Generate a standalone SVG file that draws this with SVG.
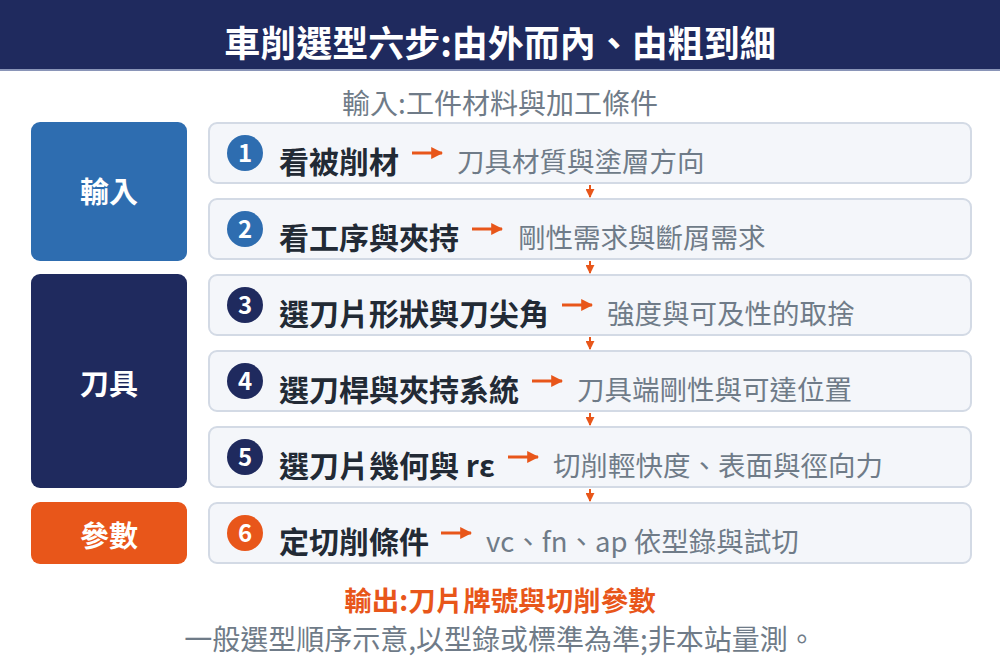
<svg xmlns="http://www.w3.org/2000/svg" width="1000" height="660" viewBox="0 0 1000 660">
<defs>
<style>
.t{font-family:"Noto Sans CJK TC","Noto Sans CJK SC",sans-serif}
.h{font-size:36px;font-weight:700;fill:#ffffff}
.sub{font-size:28px;fill:#6f7b88}
.lab{font-size:29px;font-weight:700;fill:#ffffff}
.box{fill:#f4f6fa;stroke:#d3dae5;stroke-width:2}
.st{font-size:30px;font-weight:700;fill:#222a35}
.ds{font-size:27.5px;fill:#6f7b88}
.num{font-size:24px;font-weight:700;fill:#ffffff}
.arr{stroke:#e8561a;stroke-width:3;fill:none}
.dn{stroke:#e8561a;stroke-width:2;fill:none}
</style>
<marker id="ah" viewBox="0 0 10 10" refX="9" refY="5" markerWidth="4" markerHeight="4" orient="auto" markerUnits="strokeWidth">
<path d="M0,0 L10,5 L0,10 z" fill="#e8561a"/>
</marker>
<marker id="ad" viewBox="0 0 10 10" refX="9" refY="5" markerWidth="4.5" markerHeight="4.5" orient="auto" markerUnits="strokeWidth">
<path d="M0,0 L10,5 L0,10 z" fill="#e8561a"/>
</marker>
</defs>
<rect width="1000" height="660" fill="#ffffff"/>
<g id="header">
<rect x="0" y="0" width="1000" height="70" fill="#1f2a5e"/>
<rect x="0" y="69" width="1000" height="2" fill="#8a95b8"/>
<text class="t h" x="500" y="57" text-anchor="middle">車削選型六步:由外而內、由粗到細</text>
</g>
<text class="t sub" x="500" y="114" text-anchor="middle">輸入:工件材料與加工條件</text>
<g id="cat-input">
<rect x="31" y="122" width="156" height="139" rx="9" fill="#2e6db0"/>
<text class="t lab" x="109" y="203" text-anchor="middle">輸入</text>
</g>
<g id="cat-tool">
<rect x="31" y="274" width="156" height="214" rx="9" fill="#1f2a5e"/>
<text class="t lab" x="109" y="395" text-anchor="middle">刀具</text>
</g>
<g id="cat-param">
<rect x="31" y="502" width="156" height="62" rx="9" fill="#e8561a"/>
<text class="t lab" x="109" y="547" text-anchor="middle">參數</text>
</g>
<g id="step1">
<rect class="box" x="209" y="123" width="762" height="60" rx="8"/>
<circle cx="245" cy="153" r="18" fill="#2e6db0"/>
<text class="t num" x="245" y="162" text-anchor="middle">1</text>
<text class="t st" x="279" y="173">看被削材</text>
<text class="t ds" x="457" y="172">刀具材質與塗層方向</text>
</g>
<g id="step2">
<rect class="box" x="209" y="199" width="762" height="60" rx="8"/>
<circle cx="245" cy="229" r="18" fill="#2e6db0"/>
<text class="t num" x="245" y="238" text-anchor="middle">2</text>
<text class="t st" x="279" y="249">看工序與夾持</text>
<text class="t ds" x="518" y="248">剛性需求與斷屑需求</text>
</g>
<g id="step3">
<rect class="box" x="209" y="275" width="762" height="60" rx="8"/>
<circle cx="245" cy="305" r="18" fill="#1f2a5e"/>
<text class="t num" x="245" y="314" text-anchor="middle">3</text>
<text class="t st" x="279" y="325">選刀片形狀與刀尖角</text>
<text class="t ds" x="607" y="324">強度與可及性的取捨</text>
</g>
<g id="step4">
<rect class="box" x="209" y="351" width="762" height="60" rx="8"/>
<circle cx="245" cy="381" r="18" fill="#1f2a5e"/>
<text class="t num" x="245" y="390" text-anchor="middle">4</text>
<text class="t st" x="279" y="401">選刀桿與夾持系統</text>
<text class="t ds" x="577" y="400">刀具端剛性與可達位置</text>
</g>
<g id="step5">
<rect class="box" x="209" y="427" width="762" height="60" rx="8"/>
<circle cx="245" cy="457" r="18" fill="#1f2a5e"/>
<text class="t num" x="245" y="466" text-anchor="middle">5</text>
<text class="t st" x="279" y="477">選刀片幾何與 rε</text>
<text class="t ds" x="553" y="476">切削輕快度、表面與徑向力</text>
</g>
<g id="step6">
<rect class="box" x="209" y="503" width="762" height="60" rx="8"/>
<circle cx="245" cy="533" r="18" fill="#e8561a"/>
<text class="t num" x="245" y="542" text-anchor="middle">6</text>
<text class="t st" x="279" y="553">定切削條件</text>
<text class="t ds" x="486" y="552">vc、fn、ap 依型錄與試切</text>
</g>
<g id="connectors">
<line class="arr" x1="412" y1="153" x2="442" y2="153" marker-end="url(#ah)"/>
<line class="arr" x1="472" y1="229" x2="502" y2="229" marker-end="url(#ah)"/>
<line class="arr" x1="562" y1="305" x2="592" y2="305" marker-end="url(#ah)"/>
<line class="arr" x1="532" y1="381" x2="562" y2="381" marker-end="url(#ah)"/>
<line class="arr" x1="508" y1="457" x2="538" y2="457" marker-end="url(#ah)"/>
<line class="arr" x1="441" y1="533" x2="471" y2="533" marker-end="url(#ah)"/>
<line class="dn" x1="590" y1="185" x2="590" y2="197" marker-end="url(#ad)"/>
<line class="dn" x1="590" y1="261" x2="590" y2="273" marker-end="url(#ad)"/>
<line class="dn" x1="590" y1="337" x2="590" y2="349" marker-end="url(#ad)"/>
<line class="dn" x1="590" y1="413" x2="590" y2="425" marker-end="url(#ad)"/>
<line class="dn" x1="590" y1="489" x2="590" y2="501" marker-end="url(#ad)"/>
</g>
<text class="t" x="500" y="611" text-anchor="middle" font-size="27.5" font-weight="700" fill="#e8561a">輸出:刀片牌號與切削參數</text>
<text class="t" x="500" y="650" text-anchor="middle" font-size="28" fill="#6f7b88">一般選型順序示意,以型錄或標準為準;非本站量測。</text>
</svg>
